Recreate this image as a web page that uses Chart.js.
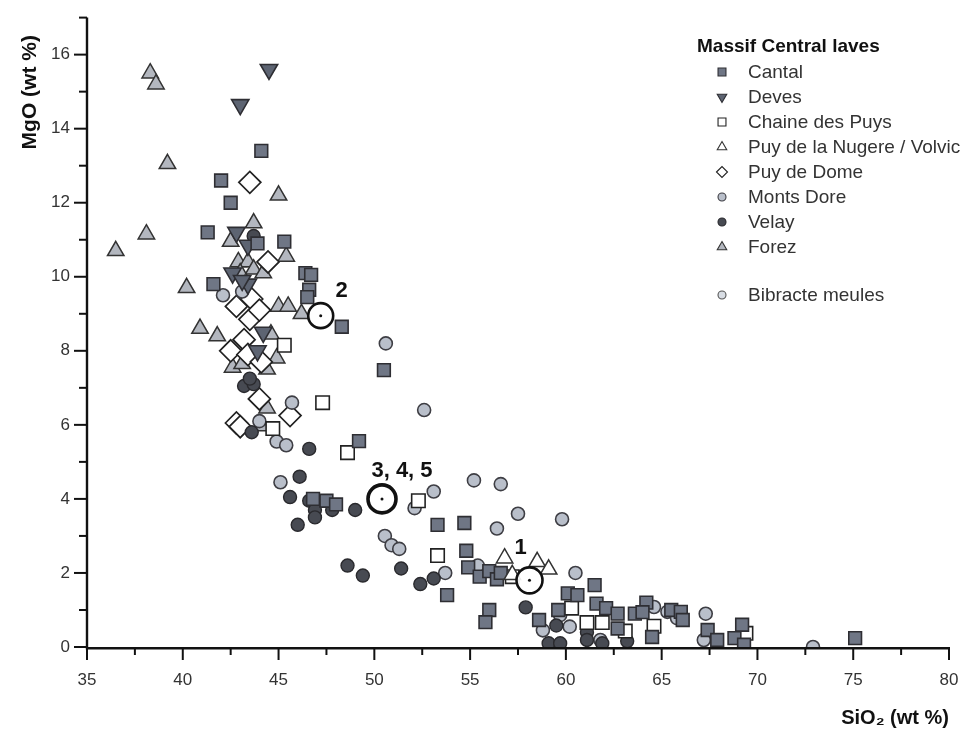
<!DOCTYPE html>
<html>
<head>
<meta charset="utf-8">
<script src="https://cdn.jsdelivr.net/npm/chart.js@4.4.0/dist/chart.umd.min.js"></script>
<style>
html,body{margin:0;padding:0;background:#fff;}
#wrap{position:relative;width:970px;height:733px;}
</style>
</head>
<body>
<div id="wrap"><canvas id="c" width="970" height="733"></canvas></div>
<script>
// ---- data (SiO2 wt %, MgO wt %) ----
const cantalSiO2 = [44.1,42.0,42.5,41.3,43.9,45.3,46.4,46.7,46.6,46.5,41.6,48.3,50.5,49.2,46.8,47.5,48.0,53.3,54.7,54.8,54.9,55.5,56.0,56.4,56.6,56.0,55.8,53.8,58.6,59.6,60.1,60.6,61.5,61.6,62.1,62.7,62.7,63.6,64.2,64.0,64.5,65.5,66.0,66.1,67.4,67.9,69.2,68.8,69.3,75.1];
const cantalMgO  = [13.4,12.6,12.0,11.2,10.9,10.95,10.1,10.05,9.65,9.45,9.8,8.65,7.48,5.56,4.0,3.95,3.85,3.3,3.35,2.6,2.15,1.9,2.05,1.83,2.0,1.0,0.67,1.4,0.73,1.0,1.45,1.4,1.67,1.17,1.05,0.9,0.5,0.9,1.2,0.94,0.27,1.0,0.95,0.73,0.46,0.19,0.6,0.24,0.06,0.24];

const devesSiO2 = [44.5,43.0,42.8,43.4,42.6,43.4,43.1,44.2,43.9];
const devesMgO  = [15.6,14.65,11.2,10.85,10.1,9.8,9.9,8.5,8.0];

const chaineSiO2 = [45.3,44.7,47.3,48.6,52.3,53.3,57.2,60.3,61.1,61.9,63.1,64.6,69.4];
const chaineMgO  = [8.15,5.9,6.6,5.25,3.95,2.47,1.9,1.05,0.66,0.66,0.43,0.56,0.37];

const nugereSiO2 = [56.8,57.2,58.5,59.1];
const nugereMgO  = [2.4,1.95,2.3,2.1];

const domeSiO2 = [43.5,44.45,42.8,43.6,43.5,44.0,43.2,42.5,43.4,44.1,44.0,42.8,43.0,45.6];
const domeMgO  = [12.55,10.4,9.2,9.4,8.85,9.1,8.3,8.0,7.9,7.7,6.7,6.05,5.95,6.25];

const montsDoreSiO2 = [42.1,43.1,44.0,44.9,45.4,45.7,45.1,50.6,52.6,52.1,53.1,50.55,50.9,51.3,55.2,56.6,56.4,57.5,59.8,55.4,53.7,60.5,58.8,59.7,60.2,61.8,64.6,65.3,65.8,67.3,67.2,72.9];
const montsDoreMgO  = [9.5,9.6,6.1,5.55,5.45,6.6,4.45,8.2,6.4,3.75,4.2,3.0,2.75,2.65,4.5,4.4,3.2,3.6,3.45,2.2,2.0,2.0,0.45,0.86,0.55,0.19,1.08,0.95,0.78,0.9,0.19,0.0];

const velaySiO2 = [43.7,43.2,43.7,43.5,43.6,46.6,46.1,45.6,46.6,46.9,46.9,47.8,49.0,46.0,48.6,49.4,51.4,52.4,53.1,57.9,59.1,59.7,59.5,61.1,61.1,61.9,63.2];
const velayMgO  = [11.1,7.05,7.1,7.25,5.8,5.35,4.6,4.05,3.95,3.7,3.5,3.7,3.7,3.3,2.2,1.93,2.12,1.7,1.85,1.07,0.1,0.1,0.58,0.4,0.19,0.1,0.16];

const forezSiO2 = [38.3,38.6,39.2,36.5,38.1,40.2,40.9,41.8,42.6,43.1,43.7,45.0,42.5,45.4,42.9,43.4,43.0,43.7,44.2,45.0,45.5,46.2,44.6,44.4,44.9,44.4,44.1];
const forezMgO  = [15.5,15.2,13.05,10.7,11.15,9.7,8.6,8.4,7.55,7.65,11.45,12.2,10.95,10.55,10.4,10.4,10.1,10.2,10.1,9.2,9.2,9.0,8.45,7.5,7.8,6.45,5.97];

const bibracteSiO2 = [58.1,47.2,50.4];
const bibracteMgO  = [1.8,8.95,4.0];
const bibracteLabels = ['1','2','3, 4, 5'];

const legendTitle = 'Massif Central laves';
const seriesNames = ['Cantal','Deves','Chaine des Puys','Puy de la Nugere / Volvic','Puy de Dome','Monts Dore','Velay','Forez','Bibracte meules'];

const xTickValues = [35,40,45,50,55,60,65,70,75,80];
const yTickValues = [0,2,4,6,8,10,12,14,16];

function pts(xs, ys){ return xs.map((x,i)=>({x:x, y:ys[i]})); }

const FONT = '"Liberation Sans", Arial, Helvetica, sans-serif';

const styles = {
  cantal:   {pointStyle:'rect', radius:9, bg:'#6f7685', border:'#2e2e33', bw:1.6, rot:0},
  deves:    {pointStyle:'triangle', radius:10, bg:'#5d6472', border:'#2e2e33', bw:1.6, rot:180},
  chaine:   {pointStyle:'rect', radius:9.5, bg:'#ffffff', border:'#222', bw:1.6, rot:0},
  nugere:   {pointStyle:'triangle', radius:9.5, bg:'#ffffff', border:'#333', bw:1.5, rot:0},
  dome:     {pointStyle:'rectRot', radius:11, bg:'#ffffff', border:'#222', bw:1.7, rot:0},
  montsDore:{pointStyle:'circle', radius:6.5, bg:'#b9bfca', border:'#3e3e44', bw:1.6, rot:0},
  velay:    {pointStyle:'circle', radius:6.5, bg:'#474a52', border:'#2a2a2e', bw:1.4, rot:0},
  forez:    {pointStyle:'triangle', radius:9.5, bg:'#b3b7bf', border:'#333', bw:1.5, rot:0},
  bibracte: {pointStyle:'circle', radius:6, bg:'#d8dde4', border:'#555', bw:1.2, rot:0}
};

function ds(label, xs, ys, s){
  return {label:label, data:pts(xs,ys), pointStyle:s.pointStyle, pointRadius:s.radius,
    pointRotation:s.rot, backgroundColor:s.bg, borderColor:s.border, pointBorderWidth:s.bw,
    pointHoverRadius:s.radius, showLine:false};
}

const datasets = [
  {label:'centres', data:pts(bibracteSiO2,bibracteMgO), pointStyle:'circle', pointRadius:1.5,
   backgroundColor:'#111', borderColor:'#111', pointBorderWidth:0, showLine:false},
  {label:'Bibracte meules', data:pts(bibracteSiO2,bibracteMgO), pointStyle:'circle', pointRadius:[13,12.5,14],
   backgroundColor:'rgba(255,255,255,0.9)', borderColor:'#111', pointBorderWidth:[2.6,2.6,3.6], showLine:false},
  ds('Nugere', nugereSiO2, nugereMgO, styles.nugere),
  ds('Cantal', cantalSiO2, cantalMgO, styles.cantal),
  ds('Chaine', chaineSiO2, chaineMgO, styles.chaine),
  ds('Deves', devesSiO2, devesMgO, styles.deves),
  ds('Velay', velaySiO2, velayMgO, styles.velay),
  ds('MontsDore', montsDoreSiO2, montsDoreMgO, styles.montsDore),
  ds('Dome', domeSiO2, domeMgO, styles.dome),
  ds('Forez', forezSiO2, forezMgO, styles.forez)
];

function drawMarker(ctx, s, x, y, r){
  ctx.save();
  ctx.fillStyle = s.bg; ctx.strokeStyle = s.border; ctx.lineWidth = 1.1;
  if (Chart.helpers && Chart.helpers.drawPoint){
    Chart.helpers.drawPoint(ctx, {pointStyle:s.pointStyle, radius:r, rotation:s.rot, borderWidth:1.1}, x, y);
  }
  ctx.restore();
}

const customPlugin = {
  id:'custom',
  afterDraw(chart){
    const ctx = chart.ctx, xs = chart.scales.x, ys = chart.scales.y, a = chart.chartArea;
    ctx.save();
    // axis lines
    ctx.strokeStyle = '#111'; ctx.lineWidth = 2.4; ctx.lineCap='butt';
    ctx.beginPath(); ctx.moveTo(a.left, a.top); ctx.lineTo(a.left, a.bottom+1.2); ctx.lineTo(a.right, a.bottom+1.2); ctx.stroke();
    ctx.lineWidth = 2;
    // x ticks
    xs.ticks.forEach(t=>{
      const px = xs.getPixelForValue(t.value);
      const major = xTickValues.indexOf(t.value) >= 0;
      ctx.beginPath(); ctx.moveTo(px, a.bottom); ctx.lineTo(px, a.bottom + (major?13:8)); ctx.stroke();
    });
    ys.ticks.forEach(t=>{
      const py = ys.getPixelForValue(t.value);
      const major = yTickValues.indexOf(t.value) >= 0;
      ctx.beginPath(); ctx.moveTo(a.left, py); ctx.lineTo(a.left - (major?13:8), py); ctx.stroke();
    });
    // annotation labels
    ctx.fillStyle = '#111'; ctx.font = 'bold 22px ' + FONT; ctx.textAlign='center'; ctx.textBaseline='middle';
    const offs = [[-9,-32],[21,-25],[20,-28]];
    bibracteLabels.forEach((lab,i)=>{
      const px = xs.getPixelForValue(bibracteSiO2[i]), py = ys.getPixelForValue(bibracteMgO[i]);
      ctx.fillText(lab, px+offs[i][0], py+offs[i][1]);
    });
    // legend
    ctx.textAlign='left';
    ctx.font = 'bold 19px ' + FONT; ctx.fillStyle='#111';
    ctx.fillText(legendTitle, 697, 47);
    const order = ['cantal','deves','chaine','nugere','dome','montsDore','velay','forez','bibracte'];
    const ypos = [72,97,122,147,172,197,222,247,295];
    ctx.font = '19px ' + FONT;
    order.forEach((k,i)=>{
      const s = styles[k];
      let r = 5.5;
      if (s.pointStyle==='rect') r = 5.6;
      if (s.pointStyle==='circle') r = 4;
      if (s.pointStyle==='rectRot') r = 5.5;
      drawMarker(ctx, s, 722, ypos[i], r);
      ctx.fillStyle='#333';
      ctx.fillText(seriesNames[i], 748, ypos[i]+1);
    });
    ctx.restore();
  }
};

new Chart(document.getElementById('c'), {
  type:'scatter',
  data:{datasets:datasets},
  options:{
    responsive:false, animation:false, events:[],
    layout:{padding:{left:0, right:21, top:15, bottom:0}},
    plugins:{legend:{display:false}, tooltip:{enabled:false}},
    scales:{
      x:{type:'linear', min:35, max:80,
        afterBuildTicks(scale){ const t=[]; for(let v=35; v<=80; v+=2.5) t.push({value:v}); scale.ticks=t; },
        afterFit(scale){ scale.height = 86; scale.paddingLeft = 0; scale.paddingRight = 0; },
        grid:{display:false, drawTicks:false}, border:{display:false},
        ticks:{autoSkip:false, maxRotation:0, padding:23, color:'#333', font:{family:FONT, size:17},
          callback:(v)=> xTickValues.indexOf(v)>=0 ? String(v) : ''},
        title:{display:true, text:'SiO₂ (wt %)', align:'end', color:'#111', font:{family:FONT, size:20, weight:'bold'}, padding:{top:0,bottom:3}}
      },
      y:{type:'linear', min:0, max:17,
        afterBuildTicks(scale){ const t=[]; for(let v=0; v<=17; v+=1) t.push({value:v}); scale.ticks=t; },
        afterFit(scale){ scale.width = 87; scale.paddingTop = 0; scale.paddingBottom = 0; },
        grid:{display:false, drawTicks:false}, border:{display:false},
        ticks:{autoSkip:false, padding:17, color:'#333', font:{family:FONT, size:17},
          callback:(v)=> yTickValues.indexOf(v)>=0 ? String(v) : ''},
        title:{display:true, text:'MgO (wt %)\u00A0\u00A0\u00A0', align:'end', color:'#111', font:{family:FONT, size:21, weight:'bold'}, padding:{top:18,bottom:0}}
      }
    }
  },
  plugins:[customPlugin]
});
</script>
</body>
</html>
